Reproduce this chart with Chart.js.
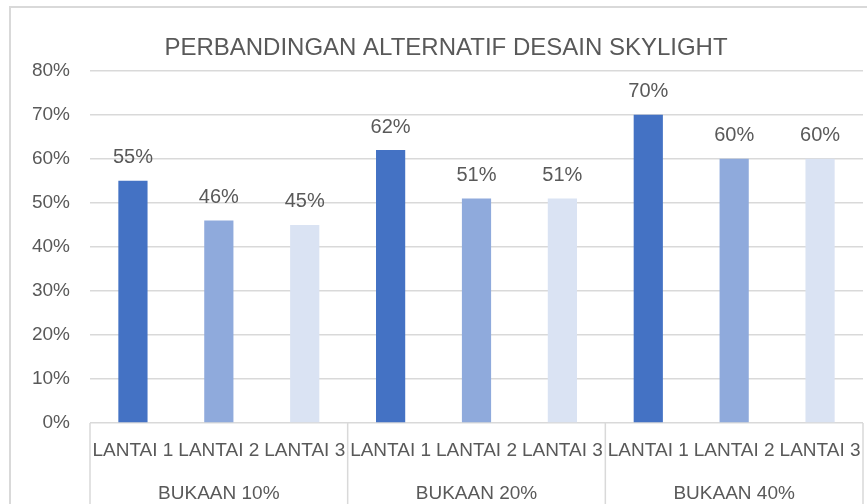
<!DOCTYPE html>
<html lang="en">
<head>
    <meta charset="UTF-8">
    <script src="https://cdn.jsdelivr.net/npm/chart.js"></script>
    <title>Perbandingan Alternatif Desain Skylight</title>
    <style>
        body {
            margin: 0;
            overflow: hidden;
            background: #fff;
        }

        #frame {
            position: absolute;
            left: 9px;
            top: 6px;
            width: 870px;
            height: 500px;
            border: 2px solid #d9d9d9;
        }
    </style>
</head>
<body>
    <div id="frame">
        <canvas id="skylightChart"></canvas>
    </div>
<script>
    // data
    const groupLabels = ['BUKAAN 10%', 'BUKAAN 20%', 'BUKAAN 40%'];
    const floorLabels = ['LANTAI 1', 'LANTAI 2', 'LANTAI 3'];
    const lantai1 = [55, 62, 70];
    const lantai2 = [46, 51, 60];
    const lantai3 = [45, 51, 60];
    const yTicks = [0, 10, 20, 30, 40, 50, 60, 70, 80];

    const floorColors = ['#4472C4', '#8FAADC', '#DAE3F3'];
    const textColor = '#595959';
    const fontFamily = "'Liberation Sans', Arial, sans-serif";

    // flatten groups x floors into one row of categories
    const series = [lantai1, lantai2, lantai3];
    const labels = [], values = [], colors = [];
    groupLabels.forEach((g, gi) => {
        floorLabels.forEach((f, fi) => {
            labels.push(f);
            values.push(series[fi][gi]);
            colors.push(floorColors[fi]);
        });
    });

    // value labels above bars
    const valueLabels = {
        id: 'valueLabels',
        afterDatasetsDraw(chart) {
            const ctx = chart.ctx;
            const meta = chart.getDatasetMeta(0);
            ctx.save();
            ctx.font = '20px ' + fontFamily;
            ctx.fillStyle = textColor;
            ctx.textAlign = 'center';
            ctx.textBaseline = 'middle';
            meta.data.forEach((bar, i) => {
                ctx.fillText(values[i] + '%', bar.x, bar.y - 23);
            });
            ctx.restore();
        }
    };

    // second row of category labels with separators
    const groupAxis = {
        id: 'groupAxis',
        afterDraw(chart) {
            const ctx = chart.ctx;
            const x = chart.scales.x;
            const n = floorLabels.length;
            const step = x.getPixelForValue(1) - x.getPixelForValue(0);
            const bottom = chart.chartArea.bottom;
            ctx.save();
            ctx.strokeStyle = '#d9d9d9';
            ctx.lineWidth = 1.5;
            for (let g = 0; g <= groupLabels.length; g++) {
                const px = x.getPixelForValue(g * n) - step / 2;
                ctx.beginPath();
                ctx.moveTo(px, bottom);
                ctx.lineTo(px, chart.height);
                ctx.stroke();
            }
            ctx.font = '19px ' + fontFamily;
            ctx.fillStyle = textColor;
            ctx.textAlign = 'center';
            ctx.textBaseline = 'middle';
            groupLabels.forEach((g, gi) => {
                const cx = (x.getPixelForValue(gi * n) + x.getPixelForValue(gi * n + n - 1)) / 2;
                ctx.fillText(g, cx, bottom + 71);
            });
            ctx.restore();
        }
    };

    new Chart(document.getElementById('skylightChart'), {
        type: 'bar',
        data: {
            labels: labels,
            datasets: [{
                data: values,
                backgroundColor: colors,
                barPercentage: 0.34,
                categoryPercentage: 1.0
            }]
        },
        options: {
            responsive: true,
            maintainAspectRatio: false,
            animation: false,
            layout: {padding: {left: 18, right: 18, top: 0, bottom: 0}},
            plugins: {
                legend: {display: false},
                tooltip: {enabled: false},
                title: {
                    display: true,
                    text: 'PERBANDINGAN ALTERNATIF DESAIN SKYLIGHT',
                    color: textColor,
                    font: {family: fontFamily, size: 24, weight: 'normal'},
                    padding: {top: 26, bottom: 8}
                }
            },
            scales: {
                x: {
                    grid: {display: false, drawTicks: false},
                    border: {display: false},
                    ticks: {
                        color: textColor,
                        font: {family: fontFamily, size: 19},
                        padding: 16,
                        maxRotation: 0,
                        autoSkip: false
                    },
                    afterFit(scale) { scale.height = 85; }
                },
                y: {
                    min: 0,
                    max: 80,
                    afterBuildTicks(scale) { scale.ticks = yTicks.map(v => ({value: v})); },
                    grid: {color: '#d9d9d9', lineWidth: 1.5, drawTicks: false},
                    border: {display: false},
                    ticks: {
                        color: textColor,
                        font: {family: fontFamily, size: 19},
                        padding: 20,
                        callback: v => v + '%'
                    },
                    afterFit(scale) { scale.width = 61; }
                }
            }
        },
        plugins: [valueLabels, groupAxis]
    });
</script>
</body>
</html>
